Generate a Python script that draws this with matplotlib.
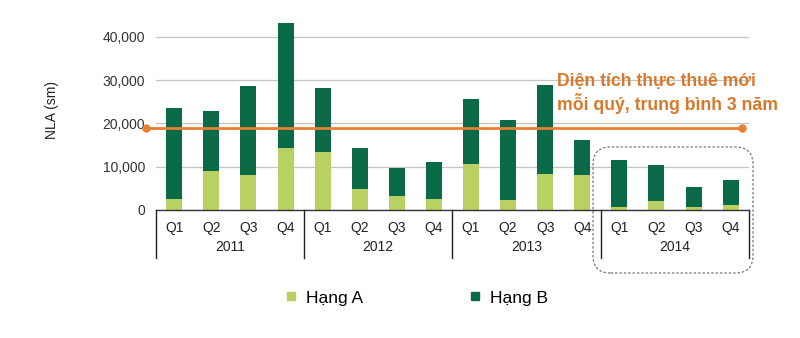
import matplotlib
matplotlib.use("Agg")
import matplotlib.pyplot as plt
from matplotlib.patches import FancyBboxPatch
from matplotlib.lines import Line2D

plt.rcParams['font.family'] = ['Liberation Sans', 'DejaVu Sans']

years = ["2011", "2012", "2013", "2014"]
quarters = ["Q1", "Q2", "Q3", "Q4"]
hang_a = [2500, 9000, 8100, 14300,
          13300, 4800, 3300, 2600,
          10600, 2300, 8400, 8100,
          700, 2100, 700, 1200]
total = [23500, 22800, 28600, 43300,
         28200, 14300, 9700, 11000,
         25600, 20900, 28900, 16200,
         11500, 10400, 5200, 6900]
hang_b = [t - a for t, a in zip(total, hang_a)]
avg_3y = 19000
avg_label = "Diện tích thực thuê mới\nmỗi quý, trung bình 3 năm"

light = "#B9D162"
dark = "#0B6A46"
orange = "#E8802F"

fig = plt.figure(figsize=(8, 3.38), dpi=100)
ax = fig.add_axes([155.7 / 800, 1 - 210 / 338, 593.5 / 800, 190.5 / 338])

x = list(range(len(total)))
ax.bar(x, hang_a, width=0.43, color=light, zorder=3)
ax.bar(x, hang_b, bottom=hang_a, width=0.43, color=dark, zorder=3)

ax.set_xlim(-0.5, len(total) - 0.5)
ax.set_ylim(0, 44000)
ax.set_yticks([0, 10000, 20000, 30000, 40000])
ax.set_yticklabels(["0", "10,000", "20,000", "30,000", "40,000"])
ax.yaxis.grid(True, color="#C4C4C4", linewidth=0.9, zorder=0)
ax.set_axisbelow(True)
for s in ["left", "right", "top"]:
    ax.spines[s].set_visible(False)
ax.spines["bottom"].set_color("#333333")
ax.spines["bottom"].set_linewidth(1.0)
ax.spines["bottom"].set_zorder(4)
ax.tick_params(axis="y", length=0, pad=7.5, labelsize=10, labelcolor="#333333")
ax.set_xticks(x)
ax.set_xticklabels(quarters * len(years))
ax.tick_params(axis="x", length=0, pad=8, labelsize=10, labelcolor="#222222")

# year group separators and labels
trans = ax.get_xaxis_transform()
for k in range(len(years) + 1):
    xs = -0.5 + 4 * k
    ax.plot([xs, xs], [0, -0.252], color="#222222", lw=1.0, transform=trans, clip_on=False)
for k, yr in enumerate(years):
    ax.text(1.5 + 4 * k, -0.194, yr, transform=trans, ha="center", va="center",
            fontsize=10, color="#222222")

# 3-year average line
ax.plot([-0.76, 15.3], [avg_3y, avg_3y], color=orange, lw=2, zorder=5,
        marker="o", markersize=5, clip_on=False)
fig.text(557 / 800, 1 - 93.5 / 338, avg_label, ha="left", va="center",
         fontsize=12.7, fontweight="bold", color="#D9782B", linespacing=1.15)

# dashed rounded box around 2014
bx0, by0, bx1, by1 = 593, 147, 753, 273
box = FancyBboxPatch((bx0 / 800, 1 - by1 / 338), (bx1 - bx0) / 800, (by1 - by0) / 338,
                     boxstyle="round,pad=0,rounding_size=0.022",
                     mutation_aspect=800 / 338, transform=fig.transFigure,
                     fill=False, edgecolor="#777777", lw=0.9, linestyle=(0, (2, 1.5)),
                     zorder=6)
fig.patches.append(box)

fig.text(52 / 800, 1 - 110 / 338, "NLA (sm)", rotation=90, ha="center", va="center",
         fontsize=10, color="#222222")

handles = [Line2D([], [], linestyle="none", marker="s", markersize=6, color=light),
           Line2D([], [], linestyle="none", marker="s", markersize=6, color=dark)]
fig.legend(handles, ["Hạng A", "Hạng B"], loc="center", bbox_to_anchor=(0.52, 1 - 298 / 338),
           ncol=2, frameon=False, fontsize=12.5, handlelength=0.8, handletextpad=0.5,
           columnspacing=6)

fig.savefig("out.png", dpi=100)
